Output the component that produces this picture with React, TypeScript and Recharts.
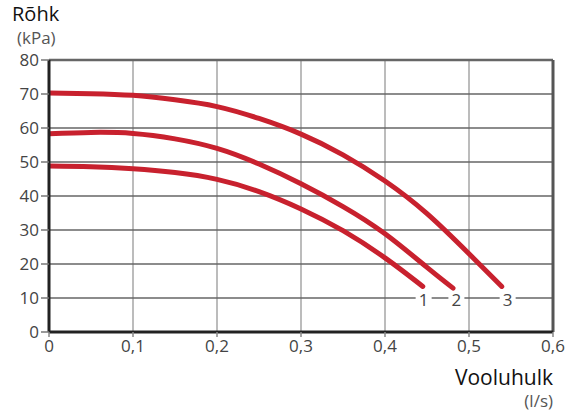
import React from "react";
import {
  ComposedChart,
  Line,
  XAxis,
  YAxis,
  CartesianGrid,
  ReferenceLine,
  ReferenceDot,
} from "recharts";

const xTicks = [0, 0.1, 0.2, 0.3, 0.4, 0.5, 0.6];
const yTicks = [0, 10, 20, 30, 40, 50, 60, 70, 80];

const curve1 = [
  { x: 0, y: 48.8 },
  { x: 0.05, y: 48.6 },
  { x: 0.1, y: 48.0 },
  { x: 0.15, y: 46.9 },
  { x: 0.2, y: 44.9 },
  { x: 0.25, y: 41.3 },
  { x: 0.3, y: 36.2 },
  { x: 0.35, y: 29.8 },
  { x: 0.4, y: 21.8 },
  { x: 0.445, y: 13.4 },
];
const curve2 = [
  { x: 0, y: 58.3 },
  { x: 0.05, y: 58.7 },
  { x: 0.1, y: 58.4 },
  { x: 0.15, y: 56.8 },
  { x: 0.2, y: 54.0 },
  { x: 0.25, y: 49.4 },
  { x: 0.3, y: 43.6 },
  { x: 0.35, y: 36.9 },
  { x: 0.4, y: 28.9 },
  { x: 0.45, y: 19.0 },
  { x: 0.481, y: 12.9 },
];
const curve3 = [
  { x: 0, y: 70.3 },
  { x: 0.05, y: 70.1 },
  { x: 0.1, y: 69.6 },
  { x: 0.15, y: 68.3 },
  { x: 0.2, y: 66.3 },
  { x: 0.25, y: 62.8 },
  { x: 0.3, y: 58.2 },
  { x: 0.35, y: 52.1 },
  { x: 0.4, y: 44.4 },
  { x: 0.45, y: 34.8 },
  { x: 0.5, y: 23.0 },
  { x: 0.539, y: 13.4 },
];
const curveLabels = [
  { x: 0.446, y: 10, text: "1" },
  { x: 0.485, y: 10, text: "2" },
  { x: 0.546, y: 10, text: "3" },
];

const RED = "#c8212e";
const FONT = "'Open Sans', 'Noto Sans', sans-serif";

const fmt = (v: number) => (v === 0 ? "0" : String(v).replace(".", ","));

const LabelShape = (text: string) => (props: any) => {
  const { cx, cy } = props;
  return (
    <g>
      <rect x={cx - 8} y={cy - 3} width={16} height={6} fill="#fff" />
      <text
        x={cx}
        y={cy + 8}
        textAnchor="middle"
        fontSize={17}
        fill="#444"
        fontFamily={FONT}
      >
        {text}
      </text>
    </g>
  );
};

export default function App() {
  return (
    <div
      style={{
        position: "absolute",
        left: 0,
        top: 0,
        width: 572,
        height: 412,
        background: "#fff",
        fontFamily: FONT,
      }}
    >
      <ComposedChart
        width={572}
        height={412}
        margin={{ top: 60, right: 19, left: 0, bottom: 50 }}
      >
        <CartesianGrid horizontal={false} stroke="#a6a6a6" strokeWidth={1.5} />
        <CartesianGrid vertical={false} stroke="#666" strokeWidth={1.5} />
        <XAxis
          type="number"
          dataKey="x"
          domain={[0, 0.6]}
          ticks={xTicks}
          tickFormatter={fmt}
          allowDataOverflow
          height={30}
          axisLine={{ stroke: "#222", strokeWidth: 3 }}
          tickLine={{ stroke: "#888", strokeWidth: 1.5 }}
          tickSize={5}
          tick={{ fontSize: 17, fill: "#444", fontFamily: FONT, dy: 1 }}
        />
        <YAxis
          type="number"
          domain={[0, 80]}
          ticks={yTicks}
          allowDataOverflow
          width={49}
          axisLine={{ stroke: "#222", strokeWidth: 3 }}
          tickLine={{ stroke: "#777", strokeWidth: 1.5 }}
          tickSize={8}
          tick={{ fontSize: 17, fill: "#444", fontFamily: FONT, dx: 0 }}
        />
        <ReferenceLine y={80} stroke="#666" strokeWidth={2.5} />
        <ReferenceLine x={0.6} stroke="#555" strokeWidth={3} />
        {curveLabels.map((l) => (
          <ReferenceDot
            key={l.text}
            x={l.x}
            y={l.y}
            r={0}
            shape={LabelShape(l.text)}
          />
        ))}
        {[curve1, curve2, curve3].map((d, i) => (
          <Line
            key={i}
            data={d}
            dataKey="y"
            type="natural"
            stroke={RED}
            strokeWidth={5}
            strokeLinecap="round"
            dot={false}
            activeDot={false}
            isAnimationActive={false}
          />
        ))}
      </ComposedChart>
      <div
        style={{
          position: "absolute",
          left: 12,
          top: 4,
          fontSize: 20,
          color: "#111",
          lineHeight: "20px",
          fontWeight: 500,
        }}
      >
        Rõhk
      </div>
      <div
        style={{
          position: "absolute",
          left: 17,
          top: 29,
          fontSize: 17,
          color: "#555",
          lineHeight: "18px",
        }}
      >
        (kPa)
      </div>
      <div
        style={{
          position: "absolute",
          right: 19,
          top: 367,
          fontSize: 21,
          color: "#111",
          lineHeight: "21px",
          fontWeight: 500,
        }}
      >
        Vooluhulk
      </div>
      <div
        style={{
          position: "absolute",
          right: 19,
          top: 392,
          fontSize: 17,
          color: "#555",
          lineHeight: "18px",
        }}
      >
        (l/s)
      </div>
    </div>
  );
}
